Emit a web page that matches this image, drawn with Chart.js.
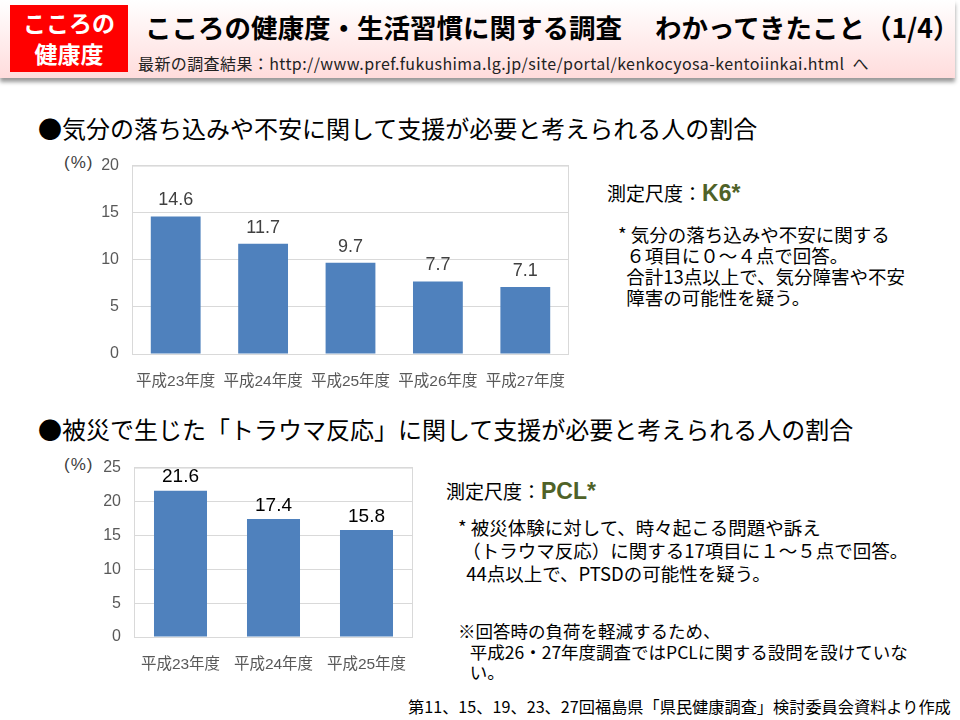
<!DOCTYPE html>
<html lang="ja">
<head>
<meta charset="utf-8">
<script src="https://cdn.jsdelivr.net/npm/chart.js@4/dist/chart.umd.min.js"></script>
<style>
  body { margin: 0; width: 960px; height: 720px; position: relative; background: #fff;
         font-family: "Noto Sans CJK JP", "Liberation Sans", sans-serif; color: #000; overflow: hidden; }
  .abs { position: absolute; white-space: nowrap; }
  #header { left: 0; top: 0; width: 955px; height: 78px;
            background: linear-gradient(#ffffff, #ffdcdc); box-shadow: 0 4px 4px #999; }
  #badge { left: 10px; top: 5px; width: 118px; height: 67px; background: #ff0000; color: #fff;
           font-size: 23px; font-weight: bold; text-align: center; line-height: 31px; padding-top: 2px; box-sizing: border-box; }
  .title { font-size: 26.5px; font-weight: bold; top: 7px; }
  .head { font-size: 24px; }
  .scale { font-size: 19px; }
  .scale b { color: #4f6228; font-size: 23px; font-family: "Liberation Sans", sans-serif; }
  .note { font-size: 18.5px; line-height: 21px; }
  .note2 { font-size: 18.5px; line-height: 23px; }
  .note3 { font-size: 17.5px; line-height: 20.5px; }
  .pct { font-size: 17px; letter-spacing: 1px; color: #404040; font-family: "Liberation Sans", sans-serif; }
</style>
</head>
<body>
<div id="header" class="abs"></div>
<div id="badge" class="abs">こころの<br>健康度</div>
<div class="abs title" style="left:145px;">こころの健康度・生活習慣に関する調査</div>
<div class="abs title" style="left:655px;">わかってきたこと（1/4）</div>
<div class="abs" style="left:138px;top:51px;font-size:16px;letter-spacing:0.4px;color:#222;">最新の調査結果：http://www.pref.fukushima.lg.jp/site/portal/kenkocyosa-kentoiinkai.html&nbsp;&nbsp;へ</div>

<div class="abs head" style="left:38px;top:110px;">●気分の落ち込みや不安に関して支援が必要と考えられる人の割合</div>
<div class="abs pct" style="left:64px;top:153px;">(%)</div>
<div class="abs" style="left:60px;top:143px;width:516px;height:252px;"><canvas id="chart1"></canvas></div>

<div class="abs scale" style="left:607px;top:179px;">測定尺度：<b>K6*</b></div>
<div class="abs note" style="left:618px;top:224px;">* 気分の落ち込みや不安に関する<br>&nbsp;&nbsp;６項目に０～４点で回答。<br>&nbsp;&nbsp;合計13点以上で、気分障害や不安<br>&nbsp;&nbsp;障害の可能性を疑う。</div>

<div class="abs head" style="left:38px;top:411px;">●被災で生じた「トラウマ反応」に関して支援が必要と考えられる人の割合</div>
<div class="abs pct" style="left:64px;top:455px;">(%)</div>
<div class="abs" style="left:62px;top:445px;width:358px;height:237px;"><canvas id="chart2"></canvas></div>

<div class="abs scale" style="left:446px;top:477px;">測定尺度：<b>PCL*</b></div>
<div class="abs note2" style="left:458px;top:516px;">* 被災体験に対して、時々起こる問題や訴え<br>&nbsp;（トラウマ反応）に関する17項目に１～５点で回答。<br>&nbsp;&nbsp;44点以上で、PTSDの可能性を疑う。</div>
<div class="abs note3" style="left:458px;top:621px;">※回答時の負荷を軽減するため、<br>&nbsp;&nbsp;&nbsp;平成26・27年度調査ではPCLに関する設問を設けていな<br>&nbsp;&nbsp;&nbsp;い。</div>

<div class="abs" style="left:408px;top:694px;font-size:16.2px;">第11、15、19、23、27回福島県「県民健康調査」検討委員会資料より作成</div>

<script>
// データ
const k6Labels = ['平成23年度', '平成24年度', '平成25年度', '平成26年度', '平成27年度'];
const k6Values = [14.6, 11.7, 9.7, 7.7, 7.1];
const k6Ticks = [0, 5, 10, 15, 20];

const pclLabels = ['平成23年度', '平成24年度', '平成25年度'];
const pclValues = [21.6, 17.4, 15.8];
const pclTicks = [0, 5, 10, 15, 20, 25];

const barColor = '#4f81bd';
const fontFamily = '"Liberation Sans", "Noto Sans CJK JP", sans-serif';

// 値ラベルと枠線
const valueLabels = {
    id: 'valueLabels',
    afterDatasetsDraw(chart, args, opts) {
        const c = chart.ctx;
        c.save();
        c.font = opts.size + 'px ' + fontFamily;
        c.fillStyle = opts.color;
        c.textAlign = 'center';
        c.textBaseline = 'bottom';
        chart.getDatasetMeta(0).data.forEach((bar, i) => {
            c.fillText(chart.data.datasets[0].data[i].toFixed(1), bar.x, bar.y - opts.offset);
        });
        c.restore();
    }
};
const frame = {
    id: 'frame',
    beforeDatasetsDraw(chart) {
        const a = chart.chartArea;
        const c = chart.ctx;
        c.save();
        c.strokeStyle = '#d9d9d9';
        c.lineWidth = 1;
        c.strokeRect(a.left + 0.5, a.top + 0.5, a.right - a.left - 1, a.bottom - a.top);
        c.restore();
    }
};

function makeChart(id, labels, values, ticks, labelColor, labelSize, labelOffset, xHeight) {
    return new Chart(document.getElementById(id), {
        type: 'bar',
        data: {
            labels: labels,
            datasets: [{
                data: values,
                backgroundColor: barColor,
                barPercentage: 0.57,
                categoryPercentage: 1.0
            }]
        },
        options: {
            responsive: true,
            maintainAspectRatio: false,
            animation: false,
            layout: { padding: { top: 14, right: 7, left: 0, bottom: 0 } },
            plugins: {
                legend: { display: false },
                tooltip: { enabled: false },
                valueLabels: { color: labelColor, size: labelSize, offset: labelOffset }
            },
            scales: {
                x: {
                    afterFit: (axis) => { axis.height = xHeight; },
                    grid: { display: false },
                    border: { display: false },
                    ticks: { color: '#595959', font: { size: 15.5, family: fontFamily }, padding: 10, maxRotation: 0 }
                },
                y: {
                    min: ticks[0],
                    max: ticks[ticks.length - 1],
                    afterFit: (axis) => { axis.width = 72; },
                    afterBuildTicks: (axis) => { axis.ticks = ticks.map(v => ({ value: v })); },
                    grid: { color: '#d9d9d9', drawTicks: false },
                    border: { display: false },
                    ticks: { color: '#595959', font: { size: 16, family: fontFamily }, padding: 13 }
                }
            }
        },
        plugins: [frame, valueLabels]
    });
}

makeChart('chart1', k6Labels, k6Values, k6Ticks, '#404040', 18, 7, 41);
makeChart('chart2', pclLabels, pclValues, pclTicks, '#000000', 19, 4, 45);
</script>
</body>
</html>
